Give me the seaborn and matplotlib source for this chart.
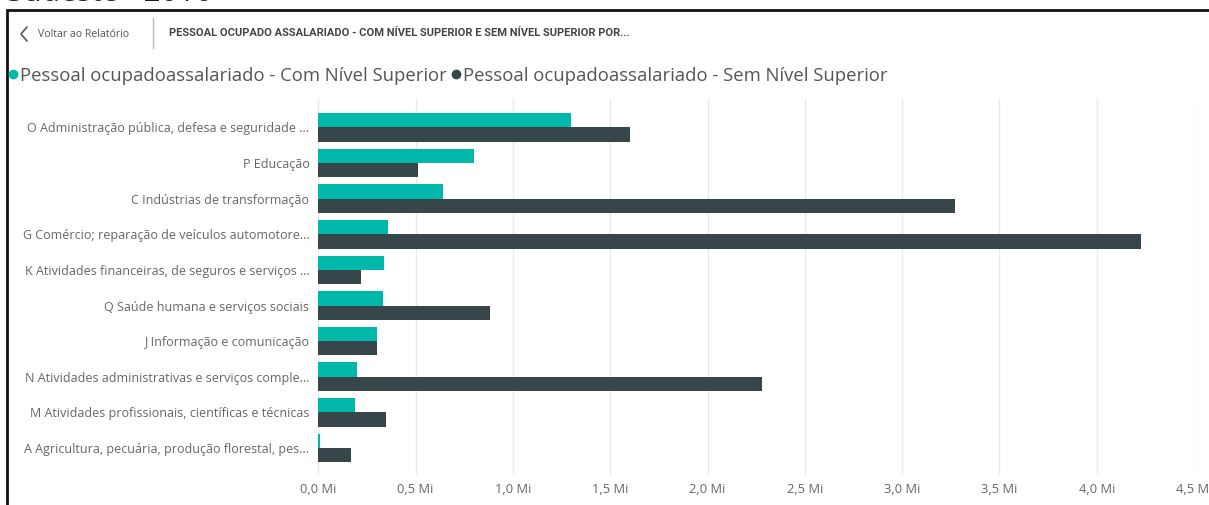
import pandas as pd
import matplotlib
matplotlib.use("Agg")
import matplotlib.pyplot as plt
import seaborn as sns
from matplotlib.lines import Line2D
from matplotlib.patches import Rectangle
from matplotlib.ticker import FuncFormatter

# Data (millions of people)
categories = [
    "O Administração pública, defesa e seguridade ...",
    "P Educação",
    "C Indústrias de transformação",
    "G Comércio; reparação de veículos automotore...",
    "K Atividades financeiras, de seguros e serviços ...",
    "Q Saúde humana e serviços sociais",
    "J Informação e comunicação",
    "N Atividades administrativas e serviços comple...",
    "M Atividades profissionais, científicas e técnicas",
    "A Agricultura, pecuária, produção florestal, pes...",
]
com_superior = [1.30, 0.80, 0.64, 0.36, 0.34, 0.33, 0.30, 0.20, 0.19, 0.01]
sem_superior = [1.60, 0.51, 3.27, 4.23, 0.22, 0.88, 0.30, 2.28, 0.35, 0.17]
series_names = ["Pessoal ocupadoassalariado - Com Nível Superior",
                "Pessoal ocupadoassalariado - Sem Nível Superior"]
xticks = [0, 0.5, 1.0, 1.5, 2.0, 2.5, 3.0, 3.5, 4.0, 4.5]

teal = "#01B8AA"
dark = "#374649"
gray = "#666666"

df = pd.DataFrame({
    "Categoria": categories * 2,
    "Valor": com_superior + sem_superior,
    "Serie": [series_names[0]] * len(categories) + [series_names[1]] * len(categories),
})

sns.set_style("white")
plt.rcParams["font.family"] = ["Open Sans", "DejaVu Sans"]

fig = plt.figure(figsize=(12.09, 5.05), dpi=100)
ax = fig.add_axes([0.2633, 0.0594, 0.7243, 0.7446])

sns.barplot(data=df, y="Categoria", x="Valor", hue="Serie", orient="h",
            palette=[teal, dark], saturation=1, width=0.8, linewidth=0,
            legend=False, ax=ax)

ax.set_xlim(0, 4.5)
ax.set_ylim(9.76, -0.80)
ax.set_xticks(xticks)
ax.xaxis.set_major_formatter(FuncFormatter(lambda v, p: f"{v:.1f}".replace(".", ",") + " Mi"))
ax.grid(axis="x", color="#E9E9E9", linewidth=1)
ax.grid(axis="y", visible=False)
ax.set_axisbelow(True)
for s in ax.spines.values():
    s.set_visible(False)
ax.set_xlabel("")
ax.set_ylabel("")
ax.tick_params(axis="y", length=0, pad=6.5, labelsize=9.0, labelcolor=gray)
ax.tick_params(axis="x", length=0, pad=6, labelsize=9.3, labelcolor=gray)

# Legend
handles = [Line2D([], [], marker="o", linestyle="", color=teal, markersize=6),
           Line2D([], [], marker="o", linestyle="", color=dark, markersize=6)]
fig.legend(handles, series_names, loc="center left", bbox_to_anchor=(0.007, 0.85),
           ncol=2, frameon=False, handlelength=0.5, handletextpad=0.1,
           columnspacing=0.3, fontsize=13.3, labelcolor="#555555",
           borderaxespad=0, borderpad=0)

# Report header (page title is cut off at the top of the screenshot)
fig.text(0.006, 0.9985, "Sudeste - 2016", fontsize=21.5, color="#222222",
         va="baseline", ha="left")
fig.patches.append(Rectangle((7 / 1209, -0.1), 1.1, 1 - 10 / 505 + 0.1,
                             transform=fig.transFigure, fill=False,
                             edgecolor="#111111", linewidth=2))
fig.lines.append(Line2D([27 / 1209, 21 / 1209, 27 / 1209],
                        [1 - 27 / 505, 1 - 34 / 505, 1 - 41 / 505],
                        transform=fig.transFigure, color="#555555", linewidth=1.2))
fig.text(38 / 1209, 1 - 34 / 505, "Voltar ao Relatório", fontsize=7.6, color="#555555",
         va="center", ha="left")
fig.lines.append(Line2D([153 / 1209, 153 / 1209], [1 - 18 / 505, 1 - 48 / 505],
                        transform=fig.transFigure, color="#BBBBBB", linewidth=1))
fig.text(169 / 1209, 1 - 33 / 505,
         "PESSOAL OCUPADO ASSALARIADO - COM NÍVEL SUPERIOR E SEM NÍVEL SUPERIOR POR...",
         fontsize=8.0, fontweight="bold", color="#444444", va="center", ha="left",
         family=["Roboto", "DejaVu Sans"])

fig.savefig("out.png", dpi=100)
